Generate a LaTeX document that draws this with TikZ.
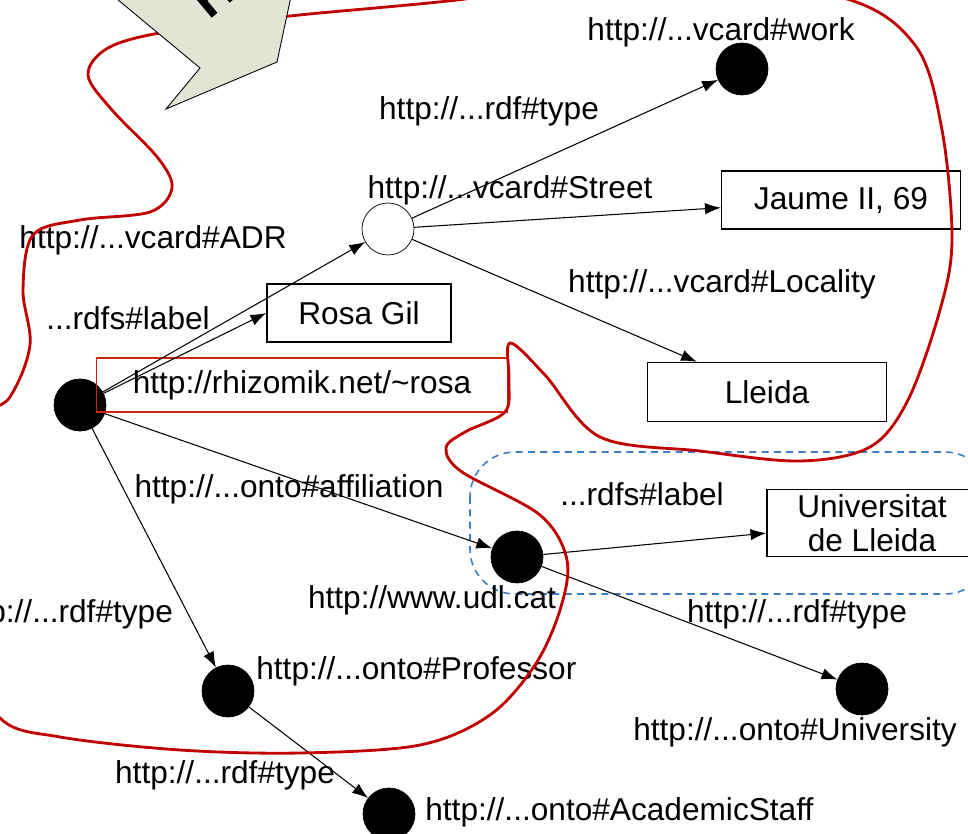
\documentclass[tikz,border=0pt]{standalone}
\usepackage{fontspec}
\setmainfont{Liberation Sans}
\usetikzlibrary{positioning}
\usetikzlibrary{arrows.meta}
\usetikzlibrary{shapes}
\definecolor{blobred}{RGB}{192,0,0}
\definecolor{boxred}{RGB}{210,35,15}
\definecolor{groupblue}{RGB}{60,125,195}
\definecolor{notefill}{RGB}{225,229,213}
\tikzstyle{res} = [draw, circle, fill=black, inner sep=0pt, minimum size=1.04cm]
\tikzstyle{blank} = [draw, circle, fill=white, inner sep=0pt, minimum size=1.04cm]
\tikzstyle{lit} = [draw, rectangle, line width=0.8pt, inner sep=0pt, minimum height=1.16cm]
\tikzstyle{line} = [draw, line width=0.6pt, -{Latex[length=9pt,width=6.5pt]}]

\begin{document}
\begin{tikzpicture}[x=0.02cm, y=-0.02cm,
        every node/.style={font=\fontsize{18}{21}\selectfont},
        prop/.style={inner sep=0pt}]
        \useasboundingbox (0,0) rectangle (968,834);
        \clip (0,0) rectangle (968,834);
        %% Group
        \draw [groupblue, dashed, dash pattern=on 4pt off 3pt, line width=0.9pt,
            rounded corners=0.9cm] (470,452) rectangle (990,594);
        %% Vertices
        \node [res] at (80,405) (rosa) {};
        \node [blank] at (388,229) (adr) {};
        \node [res] at (742,69) (work) {};
        \node [res] at (517,557) (udl) {};
        \node [res] at (862,689) (uni) {};
        \node [res] at (228,691) (prof) {};
        \node [res] at (389,814) (staff) {};
        \node [lit, minimum width=3.68cm] at (359,313) (rosagil) {Rosa Gil};
        \node [lit, minimum width=4.78cm] at (841,200) (jaume) {Jaume II, 69};
        \node [lit, minimum width=4.78cm, minimum height=1.18cm] at (767,392) (lleida) {Lleida};
        \node [lit, minimum width=4.2cm, minimum height=1.34cm, align=center,
            font=\fontsize{18}{19.5}\selectfont] at (872,523) (udlname) {Universitat\\de Lleida};
        \node [draw=boxred, line width=1pt, minimum width=8.22cm, minimum height=1.08cm]
            at (302,385) (rosaurl) {http://rhizomik.net/\textasciitilde rosa};
        %% Arcs
        \path [line] (rosa) to (adr);
        \path [line] (rosa) to (rosagil.west);
        \path [line] (rosa) to (udl);
        \path [line] (rosa) to (prof);
        \path [line] (adr) to (work);
        \path [line] (adr) to (jaume);
        \path [line] (adr) to (lleida);
        \path [line] (udl) to (udlname);
        \path [line] (udl) to (uni);
        \path [line] (prof) to (staff);
        %% Labels
        \node [prop] at (721,32) (lblwork) {http://...vcard\#work};
        \node [prop] at (489,111) (lbltypea) {http://...rdf\#type};
        \node [prop] at (510,190) (lblstreet) {http://...vcard\#Street};
        \node [prop] at (153,240) (lbladr) {http://...vcard\#ADR};
        \node [prop] at (722,284) (lblloc) {http://...vcard\#Locality};
        \node [prop] at (128,318) (lbllabela) {...rdfs\#label};
        \node [prop] at (289,489) (lblaff) {http://...onto\#affiliation};
        \node [prop] at (642,494) (lbllabelb) {...rdfs\#label};
        \node [prop] at (432,600) (lbludl) {http://www.udl.cat};
        \node [prop] at (797,614) (lbltypec) {http://...rdf\#type};
        \node [prop] at (63,614) (lbltypeb) {http://...rdf\#type};
        \node [prop, anchor=west] at (256,671) (lblprof) {http://...onto\#Professor};
        \node [prop] at (225,775) (lbltyped) {http://...rdf\#type};
        \node [prop] at (795,732) (lbluni) {http://...onto\#University};
        \node [prop, anchor=west] at (425,812) (lblstaff) {http://...onto\#AcademicStaff};
        %% Boundary
        \draw [blobred, line width=1.6pt] plot [smooth cycle, tension=0.55] coordinates {
            (-40,640) (-30,440) (10,397) (30,345) (23,290) (33,235) (80,220)
            (150,212) (172,188) (158,158) (112,110) (88,75) (108,48) (165,32)
            (290,16) (457,0) (650,-25) (840,-3) (915,45) (942,130) (952,240)
            (940,310) (908,400) (870,447) (800,461) (700,451) (600,437)
            (545,375) (510,343) (509,380) (505,412) (465,432) (446,448)
            (462,472) (540,515) (567,560) (560,610) (535,665) (490,715)
            (420,745) (300,753) (180,750) (60,737) (0,718)};
        %% Note arrow
        \draw [fill=notefill, line width=0.5pt] (46,-60) -- (200,68) -- (166,109)
            -- (277,62) -- (303,-60) -- cycle;
        \node [rotate=40, font=\fontsize{30}{30}\selectfont\bfseries] at (212,-6) (notetext) {H};
    \end{tikzpicture}
\end{document}
